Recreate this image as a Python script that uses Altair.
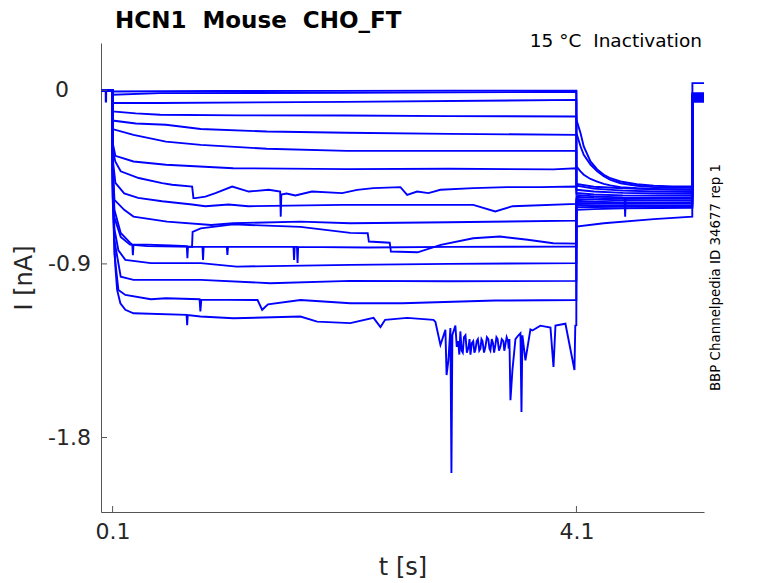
import altair as alt
import pandas as pd

# ---------------- data (t in s, I in nA) ----------------
X_TICKS = [0.1, 4.1]
Y_TICKS = [0, -0.9, -1.8]
Y_LABELS = ["0", "-0.9", "-1.8"]
TITLE = "HCN1\u00a0 Mouse\u00a0 CHO_FT"
COND = "15 °C\u00a0 Inactivation"
CELL_ID = "BBP Channelpedia ID 34677 rep 1"

HOLD_T = [0.0, 0.0995]
HOLD_I = [0.0, 0.0]
SPIKE_T = [0.0, 0.04, 0.041, 0.044, 0.045, 0.0995]
SPIKE_I = [0.0, 0.0, -0.058, -0.058, 0.0, 0.0]

TAIL_SLOW_T = [4.1, 4.135, 4.163, 4.221, 4.279, 4.336, 4.393, 4.48, 4.62, 4.767, 4.93, 5.099]
TAIL_BAND_T = [4.1, 4.25, 4.5, 4.8, 5.099]
FINAL_T = [5.1, 5.2]

T1_t = [0.1, 1.0, 2.0, 3.0, 4.099]
T1_i = [-0.006, -0.004, -0.003, -0.002, -0.002]
T1_tail = [-0.153, -0.222, -0.291, -0.369, -0.41, -0.438, -0.456, -0.473, -0.487, -0.495, -0.498, -0.499]

T2_t = [0.1, 0.51, 2.11, 4.099]
T2_i = [-0.023, -0.015, -0.013, -0.008]
T2_tail = [-0.222, -0.29, -0.335, -0.385, -0.42, -0.446, -0.464, -0.482, -0.495, -0.502, -0.505, -0.506]

T3_t = [0.1, 0.5, 2.1, 4.099]
T3_i = [-0.066, -0.066, -0.06, -0.05]
T3_tail = [-0.395, -0.42, -0.438, -0.46, -0.473, -0.485, -0.493, -0.502, -0.508, -0.512, -0.515, -0.516]

T4_t = [0.1, 0.3, 0.51, 1.2, 2.11, 3.0, 4.099]
T4_i = [-0.110, -0.12, -0.127, -0.13, -0.131, -0.134, -0.136]
T4_tail = [-0.485, -0.50, -0.508, -0.513, -0.516]

T5_t = [0.1, 0.3, 0.56, 0.86, 1.43, 2.12, 3.0, 4.099]
T5_i = [-0.157, -0.172, -0.179, -0.201, -0.214, -0.22, -0.226, -0.231]
T5_tail = [-0.495, -0.51, -0.52, -0.525, -0.527]

T6_t = [0.1, 0.28, 0.56, 0.86, 1.43, 2.12, 4.099]
T6_i = [-0.201, -0.231, -0.266, -0.283, -0.303, -0.314, -0.314]
T6_tail = [-0.516, -0.525, -0.532, -0.535, -0.537]

T7_t = [0.1, 0.124, 0.28, 0.56, 1.14, 2.12, 3.0, 3.9, 4.099]
T7_i = [-0.27, -0.34, -0.369, -0.386, -0.404, -0.409, -0.407, -0.41, -0.404]
T7_tail = [-0.532, -0.54, -0.545, -0.546, -0.547]

T8_t = [0.1, 0.124, 0.17, 0.325, 0.527, 0.613, 0.786, 0.797, 0.814, 0.90, 0.987, 1.131,
        1.274, 1.446, 1.545, 1.55, 1.555, 1.6, 1.676, 1.82, 2.079, 2.209, 2.349, 2.582,
        2.64, 2.726, 2.824, 2.927, 3.211, 3.502, 3.787, 4.099]
T8_i = [-0.31, -0.37, -0.42, -0.455, -0.481, -0.49, -0.499, -0.559, -0.559, -0.551, -0.533, -0.499,
        -0.525, -0.516, -0.525, -0.655, -0.54, -0.535, -0.545, -0.525, -0.533, -0.516, -0.507, -0.502,
        -0.542, -0.525, -0.533, -0.516, -0.507, -0.502, -0.502, -0.499]
T8_tail = [-0.542, -0.55, -0.555, -0.557, -0.558]

T9_t = [0.1, 0.124, 0.2, 0.32, 0.527, 0.786, 0.9, 1.1, 1.27, 2.08, 2.6, 3.21, 3.40, 3.55, 4.099]
T9_i = [-0.35, -0.48, -0.535, -0.558, -0.575, -0.592, -0.601, -0.592, -0.601, -0.594, -0.594,
        -0.594, -0.628, -0.601, -0.589]
T9_tail_t = [4.1, 4.25, 4.515, 4.52, 4.525, 4.8, 5.099]
T9_tail = [-0.552, -0.558, -0.561, -0.656, -0.561, -0.562, -0.563]

T10_t = [0.1, 0.116, 0.2, 0.28, 0.57, 0.95, 1.14, 1.72, 2.15, 3.0, 4.099]
T10_i = [-0.38, -0.568, -0.62, -0.655, -0.681, -0.698, -0.689, -0.681, -0.689, -0.684, -0.676]
T10_tail = [-0.563, -0.567, -0.57, -0.572, -0.573]

T11_t = [0.1, 0.116, 0.17, 0.25, 0.27, 0.275, 0.28, 0.4, 0.6, 0.74, 0.745, 0.75, 0.785, 0.79,
         0.86, 1.14, 1.72, 2.15, 2.30, 2.31, 2.49, 2.50, 2.73, 2.93, 3.21, 3.44, 3.68, 3.9, 4.099]
T11_i = [-0.40, -0.62, -0.74, -0.79, -0.8, -0.855, -0.8, -0.80, -0.805, -0.808, -0.87, -0.81,
         -0.812, -0.734, -0.716, -0.695, -0.708, -0.739, -0.741, -0.784, -0.79, -0.836, -0.84,
         -0.801, -0.767, -0.758, -0.775, -0.793, -0.795]
T11_tail = [-0.573, -0.578, -0.581, -0.583, -0.584]

T12_t = [0.1, 0.116, 0.17, 0.25, 0.4, 0.8, 0.875, 0.88, 0.885, 1.085, 1.09, 1.095, 1.66, 1.665,
         1.67, 1.69, 1.695, 1.70, 2.3, 3.0, 4.099]
T12_i = [-0.42, -0.66, -0.76, -0.8, -0.808, -0.812, -0.812, -0.879, -0.812, -0.812, -0.853, -0.812,
         -0.812, -0.88, -0.812, -0.812, -0.895, -0.812, -0.815, -0.812, -0.81]
T12_tail = [-0.584, -0.586, -0.588, -0.589, -0.589]

T13_t = [0.1, 0.116, 0.15, 0.21, 0.43, 0.86, 1.17, 2.15, 3.0, 4.099]
T13_i = [-0.45, -0.72, -0.83, -0.879, -0.896, -0.896, -0.914, -0.905, -0.90, -0.896]
T13_tail = [-0.594, -0.596, -0.598, -0.599, -0.599]

T14_t = [0.1, 0.116, 0.17, 0.28, 0.86, 1.46, 2.15, 3.0, 4.099]
T14_i = [-0.47, -0.78, -0.966, -0.983, -0.983, -1.0, -0.988, -0.99, -0.988]
T14_tail = [-0.606, -0.605, -0.604, -0.604, -0.604]

T15_t = [0.1, 0.116, 0.15, 0.21, 0.43, 0.56, 0.85, 0.857, 0.865, 1.35, 1.39, 1.44, 1.72, 2.15,
         2.6, 3.4, 4.099]
T15_i = [-0.50, -0.85, -1.035, -1.061, -1.083, -1.078, -1.083, -1.147, -1.085, -1.087, -1.138,
         -1.11, -1.087, -1.104, -1.104, -1.09, -1.087]
T15_tail = [-0.62, -0.616, -0.612, -0.61, -0.609]

# bottom sweep: early part, noisy burst (3.06-3.52 s), late part
T16_a_t = [0.1, 0.124, 0.139, 0.167, 0.21, 0.28, 0.738, 0.743, 0.748, 0.857, 1.142, 1.72, 1.864,
           2.15, 2.35, 2.41, 2.45, 2.64, 2.867, 2.884, 2.927, 2.97, 2.98, 2.996, 3.013, 3.022, 3.03]
T16_a_i = [-0.55, -0.914, -1.035, -1.104, -1.138, -1.156, -1.164, -1.218, -1.165, -1.173, -1.182,
           -1.173, -1.199, -1.207, -1.18, -1.227, -1.19, -1.18, -1.19, -1.201, -1.32, -1.242, -1.476,
           -1.398, -1.232, -1.984, -1.268]
T16_b_t = [3.056, 3.068, 3.08, 3.09, 3.099, 3.11, 3.12, 3.13, 3.143, 3.155, 3.17, 3.178, 3.186,
           3.198, 3.21, 3.22, 3.229, 3.24, 3.25, 3.262, 3.272, 3.281, 3.29, 3.303, 3.315, 3.328,
           3.34, 3.35, 3.358, 3.37, 3.38, 3.39, 3.401, 3.41, 3.42, 3.432, 3.444, 3.456, 3.47, 3.478,
           3.487, 3.498, 3.51, 3.516, 3.522]
T16_b_i = [-1.22, -1.33, -1.30, -1.37, -1.25, -1.35, -1.36, -1.28, -1.27, -1.36, -1.33, -1.29,
           -1.37, -1.31, -1.30, -1.36, -1.345, -1.30, -1.29, -1.35, -1.34, -1.29, -1.30, -1.36,
           -1.33, -1.28, -1.29, -1.34, -1.35, -1.29, -1.31, -1.36, -1.32, -1.28, -1.29, -1.35,
           -1.33, -1.29, -1.30, -1.35, -1.32, -1.28, -1.30, -1.34, -1.29]
T16_c_t = [3.531, 3.548, 3.574, 3.6, 3.617, 3.626, 3.634, 3.66, 3.703, 3.72, 3.789, 3.876, 3.902,
           3.919, 4.005, 4.083, 4.09, 4.099]
T16_c_i = [-1.607, -1.45, -1.29, -1.27, -1.26, -1.668, -1.27, -1.40, -1.24, -1.245, -1.22, -1.23,
           -1.434, -1.22, -1.21, -1.45, -1.22, -1.218]
T16_t = T16_a_t + T16_b_t + T16_c_t
T16_i = T16_a_i + T16_b_i + T16_c_i
T16_tail_t = [4.1, 4.336, 4.767, 5.099]
T16_tail = [-0.706, -0.689, -0.668, -0.655]

FINAL_I = [0.037, -0.015, -0.02, -0.025, -0.03, -0.032, -0.035, -0.038, -0.04, -0.042,
           -0.045, -0.047, -0.05, -0.052, -0.055, -0.06]

TRACES = [
    (SPIKE_T, SPIKE_I, T1_t, T1_i, TAIL_SLOW_T, T1_tail),
    (HOLD_T, HOLD_I, T2_t, T2_i, TAIL_SLOW_T, T2_tail),
    (HOLD_T, HOLD_I, T3_t, T3_i, TAIL_SLOW_T, T3_tail),
    (HOLD_T, HOLD_I, T4_t, T4_i, TAIL_BAND_T, T4_tail),
    (HOLD_T, HOLD_I, T5_t, T5_i, TAIL_BAND_T, T5_tail),
    (HOLD_T, HOLD_I, T6_t, T6_i, TAIL_BAND_T, T6_tail),
    (HOLD_T, HOLD_I, T7_t, T7_i, TAIL_BAND_T, T7_tail),
    (HOLD_T, HOLD_I, T8_t, T8_i, TAIL_BAND_T, T8_tail),
    (HOLD_T, HOLD_I, T9_t, T9_i, T9_tail_t, T9_tail),
    (HOLD_T, HOLD_I, T10_t, T10_i, TAIL_BAND_T, T10_tail),
    (HOLD_T, HOLD_I, T11_t, T11_i, TAIL_BAND_T, T11_tail),
    (HOLD_T, HOLD_I, T12_t, T12_i, TAIL_BAND_T, T12_tail),
    (HOLD_T, HOLD_I, T13_t, T13_i, TAIL_BAND_T, T13_tail),
    (HOLD_T, HOLD_I, T14_t, T14_i, TAIL_BAND_T, T14_tail),
    (HOLD_T, HOLD_I, T15_t, T15_i, TAIL_BAND_T, T15_tail),
    (HOLD_T, HOLD_I, T16_t, T16_i, T16_tail_t, T16_tail),
]

rows = []
for k, (ht, hi, pt, pi, tt, ti) in enumerate(TRACES):
    assert len(ht) == len(hi) and len(pt) == len(pi) and len(tt) == len(ti), k
    ts = list(ht) + list(pt) + list(tt) + FINAL_T
    vs = list(hi) + list(pi) + list(ti) + [FINAL_I[k]] * len(FINAL_T)
    for s, (t, v) in enumerate(zip(ts, vs)):
        rows.append({"trace": f"sweep {k + 1}", "seq": s, "t": t, "I": v})
df = pd.DataFrame(rows)

# ---------------- chart ----------------
W, H = 603, 469
FONT = "DejaVu Sans"
INK = "#262626"
AX = "#555555"

x_scale = alt.Scale(domain=[0, 5.2], nice=False, zero=False)
y_scale = alt.Scale(domain=[-2.186, 0.245], nice=False, zero=False)

x_axis = alt.Axis(
    values=X_TICKS, format=".1f", ticks=False, grid=False,
    domainColor=AX, domainWidth=1,
    labelFont=FONT, labelFontSize=22, labelColor=INK, labelPadding=9,
    labelFlush=False, labelOverlap=False,
    title="t [s]", titleFont=FONT, titleFontSize=24, titleFontWeight="normal",
    titleColor=INK, titleBaseline="alphabetic", titleY=62)
y_axis = alt.Axis(
    values=Y_TICKS, ticks=False, grid=False, labels=False,
    domainColor=AX, domainWidth=1,
    title="I [nA]", titleFont=FONT, titleFontSize=24, titleFontWeight="normal",
    titleColor=INK, titleX=-65, titleY=H / 2, titleBaseline="bottom")

lines = alt.Chart(df).mark_line(color="#0000ff", strokeWidth=1.9, clip=True).encode(
    x=alt.X("t:Q", scale=x_scale, axis=x_axis),
    y=alt.Y("I:Q", scale=y_scale, axis=y_axis),
    detail="trace:N",
    order="seq:Q",
)

ytick = alt.Chart(pd.DataFrame({"I": Y_TICKS})).mark_rule(color=AX, strokeWidth=1).encode(
    y=alt.Y("I:Q", scale=y_scale, axis=y_axis), x=alt.value(0), x2=alt.value(6))
xtick = alt.Chart(pd.DataFrame({"t": X_TICKS})).mark_rule(color=AX, strokeWidth=1).encode(
    x=alt.X("t:Q", scale=x_scale, axis=x_axis), y=alt.value(H), y2=alt.value(H - 6))

# y tick labels (MATLAB pads the "0" label with trailing blanks, so it sits further left)
ylab_df = pd.DataFrame({"I": Y_TICKS, "lab": Y_LABELS})
ylab_main = alt.Chart(ylab_df).transform_filter("datum.I != 0").mark_text(
    font=FONT, fontSize=22, color=INK, align="right", baseline="middle").encode(
    y=alt.Y("I:Q", scale=y_scale, axis=y_axis), text="lab:N", x=alt.value(-10))
ylab_zero = alt.Chart(ylab_df).transform_filter("datum.I == 0").mark_text(
    font=FONT, fontSize=22, color=INK, align="right", baseline="middle").encode(
    y=alt.Y("I:Q", scale=y_scale, axis=y_axis), text="lab:N", x=alt.value(-32))

title = alt.Chart(pd.DataFrame({"s": [TITLE]})).mark_text(
    font=FONT, fontSize=23, fontWeight="bold", color="#000000", align="left",
    baseline="alphabetic").encode(text="s:N", x=alt.value(14), y=alt.value(-15.5))
cond = alt.Chart(pd.DataFrame({"s": [COND]})).mark_text(
    font=FONT, fontSize=18.5, color="#000000", align="right",
    baseline="alphabetic").encode(text="s:N", x=alt.value(601), y=alt.value(4))
cid = alt.Chart(pd.DataFrame({"s": [CELL_ID]})).mark_text(
    font=FONT, fontSize=13.4, color="#000000", align="center", baseline="middle",
    angle=270).encode(text="s:N", x=alt.value(615), y=alt.value(H / 2))

chart = alt.layer(lines, ytick, xtick, ylab_main, ylab_zero, title, cond, cid).properties(
    width=W, height=H,
    autosize=alt.AutoSizeParams(type="none"),
    padding={"left": 93, "top": 35, "right": 66, "bottom": 72},
).configure_view(stroke=None)

chart.save("out.html", embed_options={"renderer": "svg", "actions": False})
